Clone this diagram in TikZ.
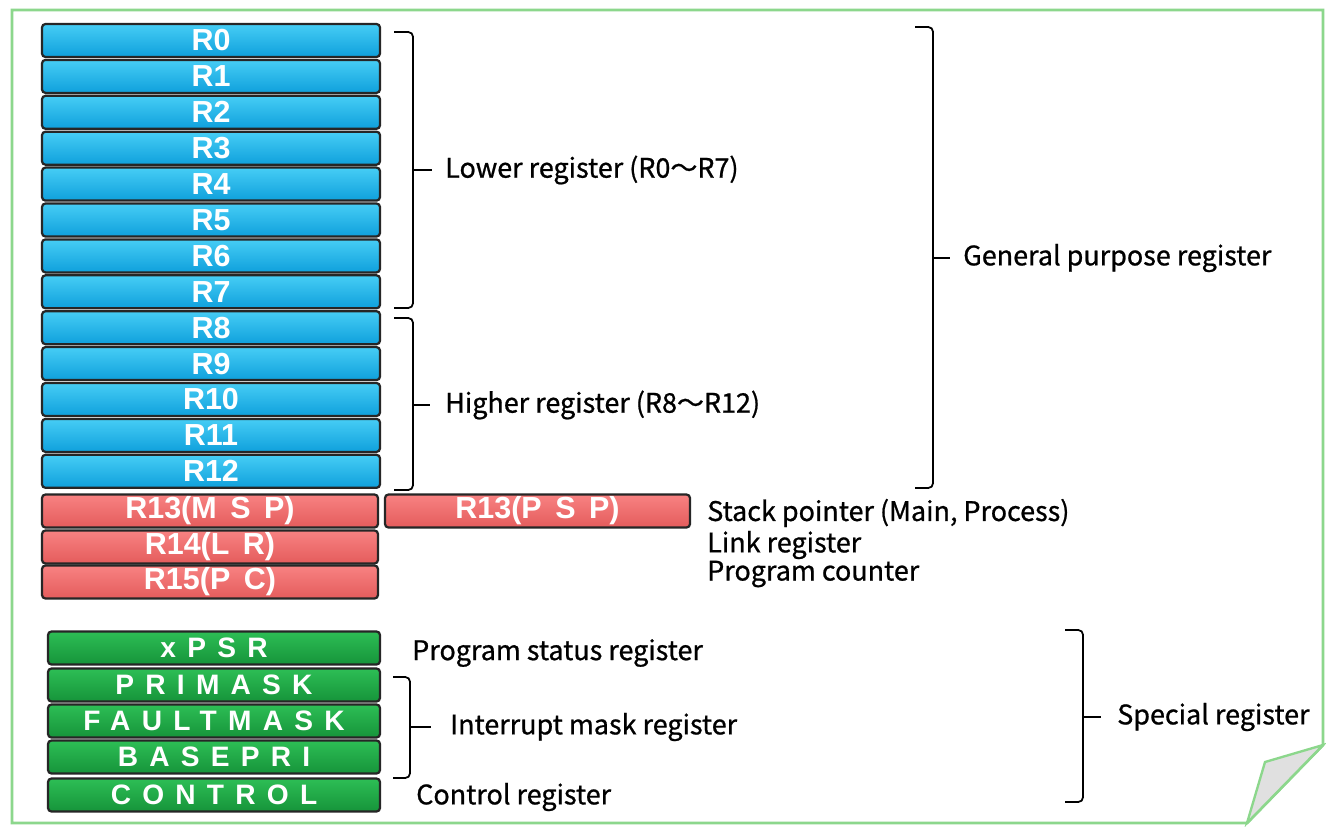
\documentclass[tikz,border=0pt]{standalone}
\usepackage{fontspec}
\setmainfont{Liberation Sans}
\newfontfamily\jpfont[FakeBold=0.8]{Noto Sans CJK JP}
\newfontfamily\widefont[LetterSpace=40]{Liberation Sans}
\definecolor{frame}{RGB}{140,215,140}
\definecolor{blueTop}{RGB}{70,205,245}
\definecolor{blueBot}{RGB}{15,160,220}
\definecolor{redTop}{RGB}{248,130,130}
\definecolor{redBot}{RGB}{228,92,92}
\definecolor{greenTop}{RGB}{45,190,85}
\definecolor{greenBot}{RGB}{22,148,58}
\tikzset{
	reg/.style={draw=black!85, line width=1.9pt, rounded corners=3pt, inner sep=0pt,
		minimum height=0.99cm, text=white, font=\fontsize{26}{26}\selectfont\bfseries},
	bluereg/.style={reg, minimum width=10.14cm, top color=blueTop, bottom color=blueBot},
	redreg/.style={reg, minimum width=10.08cm, top color=redTop, bottom color=redBot},
	greenreg/.style={reg, minimum width=9.96cm, top color=greenTop, bottom color=greenBot,
		font=\widefont\fontsize{24}{24}\selectfont\bfseries},
	lbl/.style={anchor=west, inner sep=0pt, font=\jpfont\fontsize{23}{23}\selectfont},
	brace/.style={line width=1.5pt, rounded corners=4pt}
}
\begin{document}
\begin{tikzpicture}[x=0.03cm, y=-0.03cm]
	\useasboundingbox (0,0) rectangle (1326,826);
	\fill[white] (0,0) rectangle (1326,826);
	\draw[frame, line width=2.5pt] (12,10) -- (1323,10) -- (1323,745) -- (1247,823) -- (12,823) -- cycle;
	\draw[frame, line width=2pt, fill=black!12] (1265,762) -- (1323,745) -- (1247,823) -- cycle;
	
	\foreach \i in {0,...,12}
		\node[bluereg] (r\i) at (211,40.5+35.9*\i) {R\i};
	
	\node[redreg] (msp) at (210,511) {R13(M\,\ S\,\ P)};
	\node[redreg, minimum width=9.15cm] (psp) at (537.5,511) {R13(P\,\ S\,\ P)};
	\node[redreg] (lr) at (210,547) {R14(L\,\ R)};
	\node[redreg] (pc) at (210,582) {R15(P\,\ C)};
	
	\node[greenreg] (xpsr) at (214,648) {xPSR};
	\node[greenreg] (primask) at (214,685) {PRIMASK};
	\node[greenreg] (faultmask) at (214,721) {FAULTMASK};
	\node[greenreg] (basepri) at (214,757) {BASEPRI};
	\node[greenreg] (control) at (214,795) {CONTROL};
	
	\node[lbl] (lower) at (445,170) {Lower register (R0～R7)};
	\node[lbl] (higher) at (445,405) {Higher register (R8～R12)};
	\node[lbl] (general) at (963,258) {General purpose register};
	\node[lbl] (sp) at (707,513) {Stack pointer (Main, Process)};
	\node[lbl] (link) at (707,545) {Link register};
	\node[lbl] (count) at (707,574) {Program counter};
	\node[lbl] (status) at (412,653) {Program status register};
	\node[lbl] (mask) at (450,727) {Interrupt mask register};
	\node[lbl] (ctrl) at (416,797) {Control register};
	\node[lbl] (special) at (1117,717) {Special register};
	
	\draw[brace] (394,32) -- (413,32) -- (413,308) -- (394,308);
	\draw[brace, shorten >=11pt] (413,170) -- (lower.west);
	\draw[brace] (394,318) -- (413,318) -- (413,490) -- (394,490);
	\draw[brace, shorten >=13pt] (413,405) -- (higher.west);
	\draw[brace] (915,27) -- (933,27) -- (933,488) -- (915,488);
	\draw[brace, shorten >=11pt] (933,258) -- (general.west);
	\draw[brace] (393,677) -- (410,677) -- (410,778) -- (393,778);
	\draw[brace, shorten >=16pt] (410,727) -- (mask.west);
	\draw[brace] (1065,630) -- (1083,630) -- (1083,802) -- (1065,802);
	\draw[brace, shorten >=14pt] (1083,717) -- (special.west);
\end{tikzpicture}
\end{document}
